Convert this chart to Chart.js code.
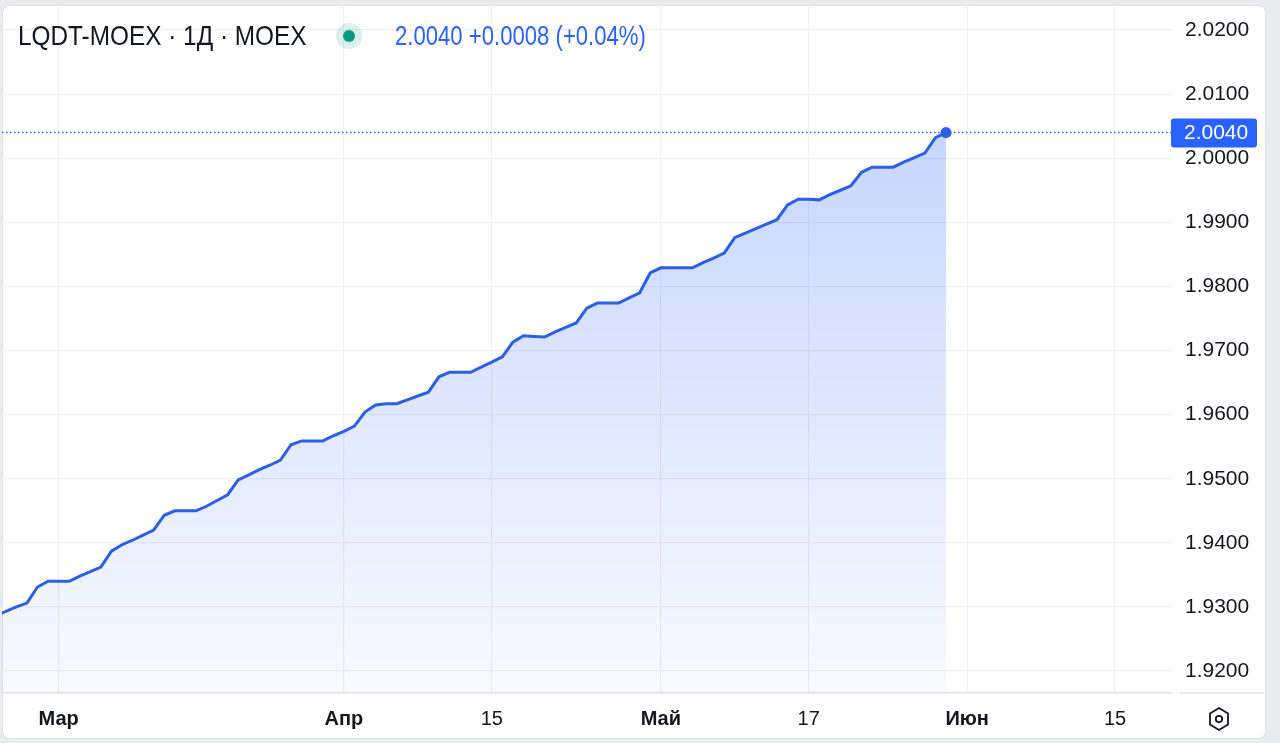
<!DOCTYPE html>
<html>
<head>
<meta charset="utf-8">
<title>LQDT-MOEX</title>
<script src="https://cdn.jsdelivr.net/npm/chart.js@4.4.1/dist/chart.umd.min.js"></script>
<style>
  html, body { margin: 0; padding: 0; }
  body { width: 1280px; height: 743px; background: #e9ebef; position: relative; overflow: hidden;
         font-family: 'Liberation Sans', Arial, sans-serif; }
  .panel { position: absolute; left: 2px; top: 5px; width: 1262px; height: 732px; background: #fff;
           border-radius: 8px; border: 1px solid #dfe2e7; }
  .wrap { position: absolute; left: 0; top: 0; width: 1280px; height: 743px; }
  .legend { position: absolute; top: 19px; left: 18px; height: 34px; font-size: 28px; line-height: 34px; white-space: nowrap; }
  .legend .title { position: absolute; left: 0; color: #131722; transform: scaleX(0.87); transform-origin: 0 50%; }
  .legend .dot { position: absolute; left: 318px; top: 4px; width: 26px; height: 26px; border-radius: 50%; background: rgba(8,153,129,0.15); }
  .legend .dot::after { content: ''; position: absolute; left: 7px; top: 7px; width: 12px; height: 12px; border-radius: 50%; background: #089981; }
  .legend .price { position: absolute; left: 377px; color: #2962ff; transform: scaleX(0.79); transform-origin: 0 50%; }
  .gear { position: absolute; left: 1207px; top: 706px; }
</style>
</head>
<body>
<div class="panel"></div>
<div class="wrap"><canvas id="myChart"></canvas></div>
<div class="legend">
  <span class="title">LQDT-MOEX · 1Д · MOEX</span>
  <span class="dot"></span>
  <span class="price">2.0040 +0.0008 (+0.04%)</span>
</div>
<svg class="gear" width="24" height="26" viewBox="0 0 24 26">
  <polygon points="12,2 21,7.5 21,18.5 12,24 3,18.5 3,7.5" fill="none" stroke="#131722" stroke-width="1.8"/>
  <circle cx="12" cy="13" r="3.2" fill="none" stroke="#131722" stroke-width="1.8"/>
</svg>
<script>
// daily closes, one per bar
const closes = [
  1.9286, 1.9293, 1.9300, 1.9306, 1.9331, 1.9340, 1.9340, 1.9340, 1.9348, 1.9355,
  1.9362, 1.9387, 1.9397, 1.9404, 1.9412, 1.9420, 1.9443, 1.9450, 1.9450, 1.9450,
  1.9457, 1.9466, 1.9475, 1.9498, 1.9506, 1.9514, 1.9521, 1.9529, 1.9553, 1.9559,
  1.9559, 1.9559, 1.9567, 1.9574, 1.9582, 1.9604, 1.9615, 1.9617, 1.9617, 1.9623,
  1.9629, 1.9635, 1.9659, 1.9666, 1.9666, 1.9666, 1.9674, 1.9682, 1.9690, 1.9713,
  1.9723, 1.9722, 1.9721, 1.9729, 1.9736, 1.9743, 1.9766, 1.9774, 1.9774, 1.9774,
  1.9782, 1.9790, 1.9821, 1.9829, 1.9829, 1.9829, 1.9829, 1.9837, 1.9844, 1.9852,
  1.9876, 1.9883, 1.9890, 1.9897, 1.9904, 1.9927, 1.9936, 1.9936, 1.9935, 1.9943,
  1.9950, 1.9957, 1.9978, 1.9986, 1.9986, 1.9986, 1.9994, 2.0001, 2.0008, 2.0032,
  2.0040
];

// time scale labels (bar index -> text)
const xTickBars = [6, 33, 47, 63, 77, 92, 106];
const xTickText = ['Мар', 'Апр', '15', 'Май', '17', 'Июн', '15'];
const monthNames = ['Мар', 'Апр', 'Май', 'Июн'];

// price scale labels
const yTicks = [1.92, 1.93, 1.94, 1.95, 1.96, 1.97, 1.98, 1.99, 2.00, 2.01, 2.02];

const lastPrice = closes[closes.length - 1];
const lineColor = '#2a5fe6';

// pick a narrow face if the machine has one, else shrink the regular one
function hasFont(name) {
  const c = document.createElement('canvas').getContext('2d');
  const probe = 'mmmwwwiii1234567890';
  c.font = '40px monospace';
  const w0 = c.measureText(probe).width;
  c.font = "40px '" + name + "', monospace";
  return c.measureText(probe).width !== w0;
}
let tickFont = "'Liberation Sans', Arial, sans-serif";
let ySize = 21, xSize = 20;
for (const f of ['Liberation Sans Narrow', 'Noto Sans Condensed', 'Arial Narrow']) {
  if (hasFont(f)) { tickFont = "'" + f + "', sans-serif"; ySize = 23; xSize = 22; break; }
}

const lastPricePlugin = {
  id: 'lastPrice',
  beforeDatasetsDraw(chart) {
    const {ctx, chartArea} = chart;
    const y = chart.scales.y.getPixelForValue(lastPrice);
    ctx.save();
    ctx.strokeStyle = lineColor;
    ctx.lineWidth = 1.5;
    ctx.setLineDash([1.5, 2.5]);
    ctx.beginPath();
    ctx.moveTo(chartArea.left, y);
    ctx.lineTo(chartArea.right, y);
    ctx.stroke();
    ctx.restore();
  },
  afterDraw(chart) {
    const {ctx, chartArea} = chart;
    const y = chart.scales.y.getPixelForValue(lastPrice);
    ctx.save();
    ctx.fillStyle = '#2962ff';
    ctx.beginPath();
    ctx.roundRect(chartArea.right - 1, y - 14, 86, 29, 3);
    ctx.fill();
    ctx.fillStyle = '#ffffff';
    ctx.font = ySize + 'px ' + tickFont;
    ctx.textBaseline = 'middle';
    ctx.fillText(lastPrice.toFixed(4), chartArea.right + 12, y + 1);
    // bottom line under the price scale
    ctx.strokeStyle = '#e0e3eb';
    ctx.lineWidth = 1.5;
    ctx.beginPath();
    ctx.moveTo(chartArea.right + 8, chartArea.bottom);
    ctx.lineTo(1264, chartArea.bottom);
    ctx.stroke();
    ctx.restore();
  }
};

const config = {
  type: 'line',
  data: {
    datasets: [{
      label: 'LQDT-MOEX',
      data: closes.map((v, i) => ({x: i, y: v})),
      borderColor: lineColor,
      borderWidth: 3,
      tension: 0,
      fill: 'start',
      backgroundColor: (context) => {
        const chart = context.chart;
        const area = chart.chartArea;
        if (!area) return 'rgba(41,98,255,0.15)';
        const top = chart.scales.y.getPixelForValue(Math.max(...closes));
        const g = chart.ctx.createLinearGradient(0, top, 0, area.bottom);
        g.addColorStop(0, 'rgba(41,98,255,0.26)');
        g.addColorStop(1, 'rgba(41,98,255,0.03)');
        return g;
      },
      pointRadius: (ctx) => ctx.dataIndex === closes.length - 1 ? 5.5 : 0,
      pointBackgroundColor: lineColor,
      pointBorderWidth: 0,
      pointHoverRadius: 0
    }]
  },
  options: {
    responsive: true,
    maintainAspectRatio: false,
    animation: false,
    layout: { autoPadding: false, padding: { left: 2, top: 5, right: 0, bottom: 0 } },
    plugins: { legend: { display: false }, tooltip: { enabled: false } },
    scales: {
      x: {
        type: 'linear',
        min: 0.64,
        max: 111.39,
        afterBuildTicks: (scale) => { scale.ticks = xTickBars.map(v => ({value: v})); },
        afterFit: (scale) => { scale.height = 50; scale.paddingLeft = 0; scale.paddingRight = 0; },
        grid: { color: '#eef0f4', lineWidth: 1.2, drawTicks: false },
        border: { display: true, color: '#e0e3eb', width: 1.5 },
        ticks: {
          autoSkip: false,
          maxRotation: 0,
          padding: 14,
          color: '#131722',
          font: (ctx) => ({
            family: tickFont,
            size: xSize,
            weight: ctx.tick && monthNames.includes(ctx.tick.label) ? 'bold' : 'normal'
          }),
          callback: (value, index) => xTickText[index]
        }
      },
      y: {
        position: 'right',
        min: 1.91657,
        max: 2.0239,
        afterBuildTicks: (scale) => { scale.ticks = yTicks.map(v => ({value: v})); },
        afterFit: (scale) => { scale.width = 108; scale.paddingTop = 0; scale.paddingBottom = 0; },
        grid: { color: '#eef0f4', lineWidth: 1.2, drawTicks: false },
        border: { display: false },
        ticks: {
          padding: 13,
          color: '#131722',
          font: { family: tickFont, size: ySize },
          callback: (value) => value.toFixed(4)
        }
      }
    }
  },
  plugins: [lastPricePlugin]
};

const myChart = new Chart(document.getElementById('myChart'), config);
</script>
</body>
</html>
